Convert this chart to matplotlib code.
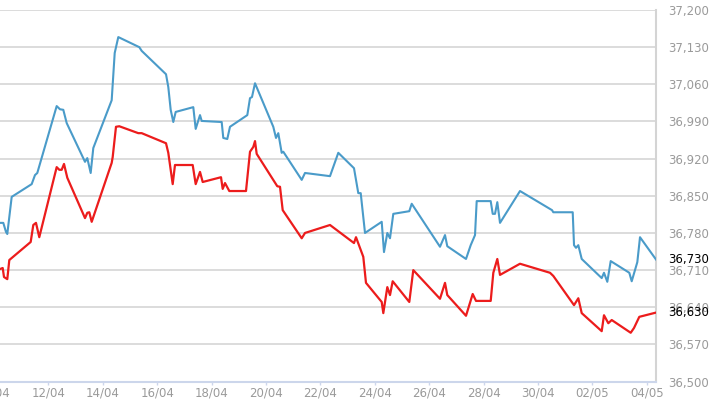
import matplotlib
matplotlib.use("Agg")
import matplotlib.pyplot as plt


# Eje X: dias desde el 10/04 (0 = 10/04 00:00)
TICK_DAYS = [0, 2, 4, 6, 8, 10, 12, 14, 16, 18, 20, 22, 24]
TICK_LABELS = ["10/04", "12/04", "14/04", "16/04", "18/04", "20/04", "22/04",
               "24/04", "26/04", "28/04", "30/04", "02/05", "04/05"]
Y_TICKS = [36500, 36570, 36640, 36710, 36780, 36850, 36920, 36990, 37060, 37130, 37200]

# Serie azul
BLUE_DAYS = [0.221, 0.342, 0.441, 0.489, 0.651, 1.386, 1.507, 1.592, 2.305, 2.426,
             2.548, 2.673, 3.346, 3.430, 3.555, 3.651, 4.327, 4.438, 4.570, 5.342,
             5.430, 6.324, 6.408, 6.496, 6.592, 6.680, 7.327, 7.415, 7.574, 7.636,
             8.371, 8.430, 8.577, 8.676, 9.313, 9.412, 9.485, 9.596, 10.268, 10.368,
             10.452, 10.577, 10.636, 11.313, 11.434, 12.353, 12.658, 13.235, 13.393, 13.482,
             13.640, 14.254, 14.338, 14.460, 14.559, 14.680, 15.268, 15.357, 16.397, 16.581,
             16.665, 17.353, 17.526, 17.684, 17.746, 18.261, 18.335, 18.419, 18.504, 18.603,
             19.338, 20.515, 20.563, 21.276, 21.324, 21.397, 21.482, 21.607, 22.342, 22.426,
             22.548, 22.673, 23.357, 23.445, 23.651, 23.750, 24.338]
BLUE_VALUES = [36799, 36799, 36782, 36778, 36848, 36872, 36889, 36893, 37019, 37013,
               37012, 36987, 36914, 36921, 36893, 36940, 37030, 37119, 37149, 37130,
               37123, 37079, 37055, 37012, 36989, 37008, 37017, 36976, 37002, 36991,
               36989, 36959, 36957, 36980, 37002, 37034, 37036, 37062, 36980, 36959,
               36968, 36931, 36933, 36880, 36893, 36887, 36931, 36902, 36855, 36855,
               36780, 36801, 36744, 36780, 36770, 36816, 36821, 36835, 36754, 36776,
               36755, 36731, 36757, 36776, 36840, 36840, 36816, 36816, 36838, 36799,
               36859, 36823, 36819, 36819, 36757, 36752, 36757, 36731, 36695, 36705,
               36688, 36727, 36705, 36689, 36725, 36772, 36730]

# Serie roja
RED_DAYS = [0.221, 0.320, 0.368, 0.489, 0.563, 1.349, 1.445, 1.544, 1.665, 2.305,
            2.401, 2.489, 2.574, 2.695, 3.346, 3.430, 3.504, 3.592, 4.327, 4.364,
            4.485, 4.607, 5.305, 5.430, 6.324, 6.408, 6.570, 6.654, 7.305, 7.415,
            7.574, 7.673, 8.346, 8.408, 8.493, 8.651, 9.265, 9.412, 9.533, 9.596,
            9.658, 10.415, 10.515, 10.614, 11.313, 11.434, 12.353, 13.235, 13.309, 13.577,
            13.676, 14.254, 14.313, 14.460, 14.559, 14.658, 15.268, 15.415, 16.397, 16.581,
            16.665, 17.353, 17.599, 17.721, 18.261, 18.357, 18.504, 18.603, 19.338, 20.441,
            20.563, 21.324, 21.482, 21.607, 22.342, 22.426, 22.585, 22.710, 23.408, 23.529,
            23.724, 24.338]
RED_VALUES = [36712, 36714, 36697, 36693, 36729, 36763, 36795, 36799, 36772, 36904,
              36899, 36899, 36910, 36884, 36808, 36818, 36819, 36801, 36912, 36923,
              36980, 36981, 36968, 36968, 36949, 36931, 36872, 36908, 36908, 36872,
              36895, 36876, 36885, 36863, 36874, 36859, 36859, 36933, 36942, 36953,
              36929, 36868, 36867, 36823, 36770, 36780, 36795, 36761, 36772, 36735,
              36686, 36650, 36629, 36678, 36663, 36689, 36650, 36710, 36656, 36686,
              36663, 36624, 36665, 36652, 36652, 36705, 36731, 36701, 36722, 36705,
              36699, 36644, 36657, 36629, 36595, 36625, 36610, 36616, 36592, 36601,
              36622, 36630]

BLUE = "#4a9bc9"
RED = "#ec1c1c"
GRID = "#d9d9d9"
LABEL = "#9a9a9a"
TICK_LEN = 2.5
TICK_PAD = 0.8


fig = plt.figure(figsize=(7.10, 3.99), dpi=100, facecolor="white")
ax = fig.add_axes([0.0, 1 - 381.6 / 399, 656 / 710, (381.6 - 10) / 399])

# 1. Lineas
ax.plot(BLUE_DAYS, BLUE_VALUES, color=BLUE, linewidth=1.5, solid_joinstyle="round", zorder=3)
ax.plot(RED_DAYS, RED_VALUES, color=RED, linewidth=1.6, solid_joinstyle="round", zorder=3)

# 2. Ejes
ax.set_xlim(0.221, 24.338)
ax.set_ylim(Y_TICKS[0], Y_TICKS[-1])

inRange = [(d, l) for d, l in zip(TICK_DAYS, TICK_LABELS) if d >= 0.221]
ax.set_xticks([d for d, _ in inRange])
ax.set_xticklabels([l for _, l in inRange])
ax.tick_params(axis="x", length=TICK_LEN, width=1, color="#ccd6eb",
               labelsize=8.5, labelcolor=LABEL, pad=TICK_PAD)

# etiqueta cortada a la izquierda (fuera del rango visible)
ax.annotate(TICK_LABELS[0], xy=(TICK_DAYS[0], 0), xycoords=("data", "axes fraction"),
            xytext=(0, -(TICK_LEN + TICK_PAD)), textcoords="offset points",
            ha="center", va="top", fontsize=8.5, color=LABEL, annotation_clip=False)

ax.yaxis.tick_right()
ax.set_yticks(Y_TICKS)
ax.set_yticklabels([f"{v:,}" for v in Y_TICKS])
ax.tick_params(axis="y", length=0, labelsize=8.5, labelcolor=LABEL, pad=9)

ax.grid(True, axis="y", color=GRID, linewidth=1.3)
ax.set_axisbelow(True)

for side in ["top", "left"]:
    ax.spines[side].set_visible(False)
ax.spines["bottom"].set_color("#ccd6eb")
ax.spines["bottom"].set_linewidth(1.5)
ax.spines["right"].set_color("#d4d4d4")
ax.spines["right"].set_linewidth(1.5)

# 3. Ultimos valores
for value in [BLUE_VALUES[-1], RED_VALUES[-1]]:
    ax.annotate(f"{value:,}", xy=(1, value), xycoords=("axes fraction", "data"),
                xytext=(9, 0), textcoords="offset points", ha="left", va="center",
                fontsize=8.5, color="black", annotation_clip=False)

fig.savefig("out.png", dpi=100, facecolor="white")
